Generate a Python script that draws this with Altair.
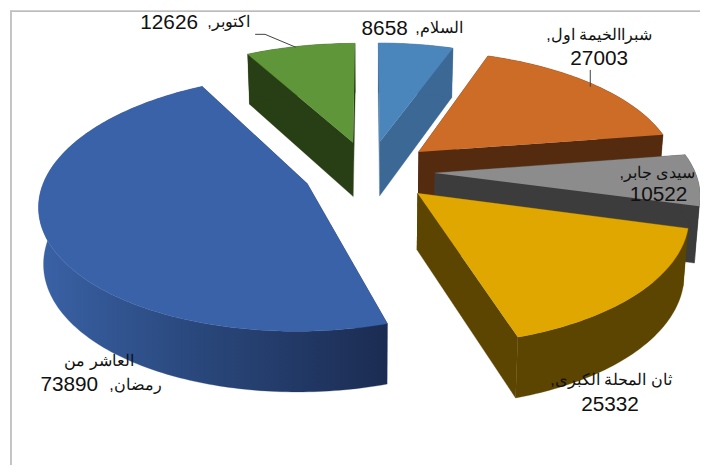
import math
import altair as alt

# --- data ---
names = ["السلام", "شبراالخيمة اول", "سيدى جابر", "ثان المحلة الكبرى", "العاشر من رمضان", "اكتوبر"]
values = [8658, 27003, 10522, 25332, 73890, 12626]

# --- style / layout ---
top_colors = ["#4A86BC", "#CC6C27", "#8C8C8C", "#DFA700", "#3A62A8", "#60963A"]
wall_colors = ["#3B6895", "#552B10", "#3C3C3C", "#5B4500", "#1F3560", "#283F16"]
draw_order = [5, 0, 1, 2, 3, 4]
W, H = 700, 457
EXPLODE = 0.25
RADIUS = 0.985
PX, CY, A, B, P = 373, 170.5, 267, 125, 0.1515
RLM = "\u200f"


def proj(X, Y, low=False):
    w = 1 + P * Y
    x = PX + A * X / w
    y = CY - B * Y / w
    if low:
        x = PX + (x - PX) * 0.985
        y += 56 - 5 * Y
    return x, y


xs = alt.Scale(domain=[8, 8 + W], range=[0, W])
ys = alt.Scale(domain=[8, 8 + H], range=[0, H])


def poly(points, fill):
    rows = [{"x": p[0], "y": p[1], "i": k} for k, p in enumerate(points)]
    return alt.Chart(alt.Data(values=rows)).mark_line(
        fill=fill, stroke=fill, strokeWidth=0.3, clip=False
    ).encode(
        x=alt.X("x:Q", scale=xs, axis=None),
        y=alt.Y("y:Q", scale=ys, axis=None),
        order=alt.Order("i:Q"),
    )


def stroke_line(pts, col, sw):
    rows = [{"x": p[0], "y": p[1], "i": k} for k, p in enumerate(pts)]
    return alt.Chart(alt.Data(values=rows)).mark_line(color=col, strokeWidth=sw).encode(
        x=alt.X("x:Q", scale=xs, axis=None),
        y=alt.Y("y:Q", scale=ys, axis=None),
        order=alt.Order("i:Q"),
    )


layers = [
    stroke_line([(10, 8.5), (708, 8.5)], "#8C8C8C", 1),
    stroke_line([(11, 8), (11, 473)], "#C4C4C4", 2),
]

total = sum(values)
edges = [0.0]
for v in values:
    edges.append(edges[-1] + 360.0 * v / total)

for idx in draw_order:
    a0, a1 = edges[idx], edges[idx + 1]
    mid = math.radians((a0 + a1) / 2)
    X0, Y0 = EXPLODE * math.sin(mid), EXPLODE * math.cos(mid)
    n = max(2, int(a1 - a0))
    arc = []
    for k in range(n + 1):
        t = math.radians(a0 + (a1 - a0) * k / n)
        arc.append((X0 + RADIUS * math.sin(t), Y0 + RADIUS * math.cos(t)))
    apex = (X0, Y0)
    top = [proj(*apex)] + [proj(*q) for q in arc]
    for end in (arc[0], arc[-1]):
        layers.append(poly([proj(*apex), proj(*end), proj(*end, True), proj(*apex, True)], wall_colors[idx]))
    strip = [proj(*q) for q in arc] + [proj(*q, True) for q in reversed(arc)]
    fill = wall_colors[idx]
    if idx == 4:
        fill = alt.Gradient(
            gradient="linear", x1=0, x2=1, y1=0, y2=0,
            stops=[
                alt.GradientStop(offset=0, color="#3A62A6"),
                alt.GradientStop(offset=0.4, color="#2B4A80"),
                alt.GradientStop(offset=1, color="#1B2C52"),
            ],
        )
    layers.append(poly(strip, fill))
    layers.append(poly(top, top_colors[idx]))

# leader lines
layers.append(stroke_line([(258, 32), (268, 32), (299, 45)], "#404040", 1))
layers.append(stroke_line([(597, 68), (597, 85)], "#404040", 1))

# labels: Arabic runs and numbers are sized apart, the fallback Arabic face runs wide
arabic_rows = [
    {"t": f"{names[0]},{RLM}", "x": 444, "y": 26},
    {"t": f"{names[1]},{RLM}", "x": 606, "y": 33},
    {"t": f"{names[2]},{RLM}", "x": 665, "y": 172},
    {"t": f"{names[3]},{RLM}", "x": 618, "y": 382},
    {"t": "العاشر من", "x": 100, "y": 362},
    {"t": f"رمضان,{RLM}", "x": 137, "y": 387},
    {"t": f"{names[5]},{RLM}", "x": 231, "y": 20},
]
number_rows = [
    {"t": f"{values[0]}", "x": 389, "y": 27},
    {"t": f"{values[1]}", "x": 606, "y": 57},
    {"t": f"{values[2]}", "x": 666, "y": 195},
    {"t": f"{values[3]}", "x": 617, "y": 407},
    {"t": f"{values[4]}", "x": 70, "y": 387},
    {"t": f"{values[5]}", "x": 171, "y": 21},
]
for rows, size in [(arabic_rows, 16.3), (number_rows, 21)]:
    layers.append(
        alt.Chart(alt.Data(values=rows)).mark_text(
            font="Liberation Sans", fontSize=size, color="#111111", align="center", baseline="middle"
        ).encode(
            x=alt.X("x:Q", scale=xs, axis=None),
            y=alt.Y("y:Q", scale=ys, axis=None),
            text="t:N",
        )
    )

chart = alt.layer(*layers).properties(
    width=W, height=H, padding=0, autosize=alt.AutoSizeParams(type="none"),
    background="white",
).configure_view(stroke=None)

chart.save("out.html", embed_options={"renderer": "svg", "actions": False})
